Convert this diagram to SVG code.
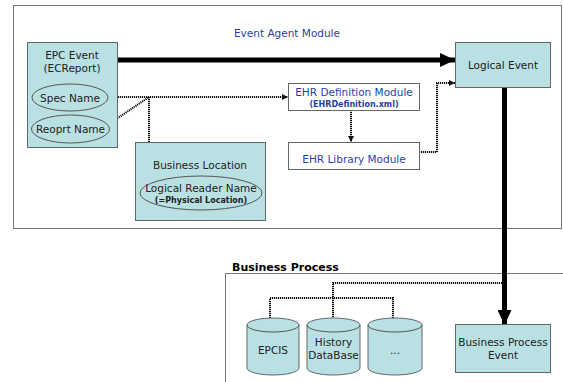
<svg xmlns="http://www.w3.org/2000/svg" width="563" height="382" viewBox="0 0 563 382">
<defs>
<style>
text{font-family:"DejaVu Sans","Liberation Sans",sans-serif;font-size:10.5px;text-anchor:middle;fill:#222}
.blue{fill:#1f3fa8}
.small{font-size:8px;font-weight:bold}
.box{fill:#b9e0e3;stroke:#666;stroke-width:1}
.wbox{fill:#fff;stroke:#666;stroke-width:1}
.frame{fill:#fff;stroke:#777;stroke-width:1}
.ell{fill:none;stroke:#555;stroke-width:1}
.dot{fill:none;stroke:#111;stroke-width:2;stroke-dasharray:1.2 0.8}
.thick{fill:none;stroke:#000;stroke-width:5}
</style>
<marker id="da" viewBox="0 0 6 6" refX="6" refY="3" markerWidth="6" markerHeight="6" markerUnits="userSpaceOnUse" orient="auto">
<path d="M0,0 L6,3 L0,6 Z" fill="#111"/>
</marker>
<marker id="ta" viewBox="0 0 15 14" refX="15" refY="7" markerWidth="15" markerHeight="14" markerUnits="userSpaceOnUse" orient="auto">
<path d="M0,0 L15,7 L0,14 Z" fill="#000"/>
</marker>
</defs>
<rect class="frame" x="13.5" y="5.5" width="548" height="223"/>
<text class="blue" x="287" y="37">Event Agent Module</text>
<rect class="frame" x="225.5" y="273.5" width="345" height="120"/>
<text x="232" y="271" style="font-weight:bold;font-size:11px;text-anchor:start;fill:#000">Business Process</text>

<g id="connectors">
<path class="thick" d="M117,60 H455" marker-end="url(#ta)"/>
<path class="thick" d="M504.5,87 V325" marker-end="url(#ta)"/>
<path class="dot" d="M108,97 H288" marker-end="url(#da)"/>
<path class="dot" d="M109,124 L149,97"/>
<path class="dot" d="M149,97 V183"/>
<path class="dot" d="M351,110 V142" marker-end="url(#da)"/>
<path class="dot" d="M419,152 H437 V83 H455" marker-end="url(#da)"/>
<path class="dot" d="M504,283 H333 V318"/>
<path class="dot" d="M270,318 V298 H393 V318"/>
</g>

<g id="epc-event">
<rect class="box" x="27.5" y="42.5" width="90" height="105"/>
<text x="72" y="59">EPC Event</text>
<text x="72" y="72">(ECReport)</text>
</g>
<g id="spec-name">
<ellipse class="ell" cx="70" cy="97.5" rx="38" ry="13.5"/>
<text x="70" y="101.5">Spec Name</text>
</g>
<g id="reoprt-name">
<ellipse class="ell" cx="70.5" cy="129" rx="39" ry="14"/>
<text x="70.5" y="133">Reoprt Name</text>
</g>
<g id="business-location">
<rect class="box" x="135.5" y="142.5" width="130" height="78"/>
<text x="200" y="169">Business Location</text>
</g>
<g id="logical-reader-name">
<ellipse class="ell" cx="201" cy="193" rx="61" ry="17"/>
<text x="201" y="192">Logical Reader Name</text>
<text class="small" x="201" y="202.5">(=Physical Location)</text>
</g>
<g id="ehr-definition-module">
<rect class="wbox" x="288.5" y="83.5" width="131" height="27"/>
<text class="blue" x="354" y="96">EHR Definition Module</text>
<text class="small blue" x="354" y="106.5">(EHRDefinition.xml)</text>
</g>
<g id="ehr-library-module">
<rect class="wbox" x="288.5" y="142.5" width="131" height="27"/>
<text class="blue" x="354" y="163">EHR Library Module</text>
</g>
<g id="logical-event">
<rect class="box" x="455.5" y="42.5" width="95" height="45"/>
<text x="503" y="68.5">Logical Event</text>
</g>
<g id="business-process-event">
<rect class="box" x="455.5" y="324.5" width="95" height="48"/>
<text x="503" y="346">Business Process</text>
<text x="503" y="359">Event</text>
</g>
<g id="epcis">
<path class="box" d="M247,325 A26,7 0 0 1 299,325 V368 A26,7 0 0 1 247,368 Z"/>
<path class="ell" d="M247,325 A26,7 0 0 0 299,325"/>
<text x="273" y="354">EPCIS</text>
</g>
<g id="history-database">
<path class="box" d="M307,325 A26.5,7 0 0 1 360,325 V368 A26.5,7 0 0 1 307,368 Z"/>
<path class="ell" d="M307,325 A26.5,7 0 0 0 360,325"/>
<text x="333.5" y="345.5">History</text>
<text x="333.5" y="359">DataBase</text>
</g>
<g id="more-db">
<path class="box" d="M368,325 A27,7 0 0 1 422,325 V368 A27,7 0 0 1 368,368 Z"/>
<path class="ell" d="M368,325 A27,7 0 0 0 422,325"/>
<text x="395" y="354">...</text>
</g>
</svg>
